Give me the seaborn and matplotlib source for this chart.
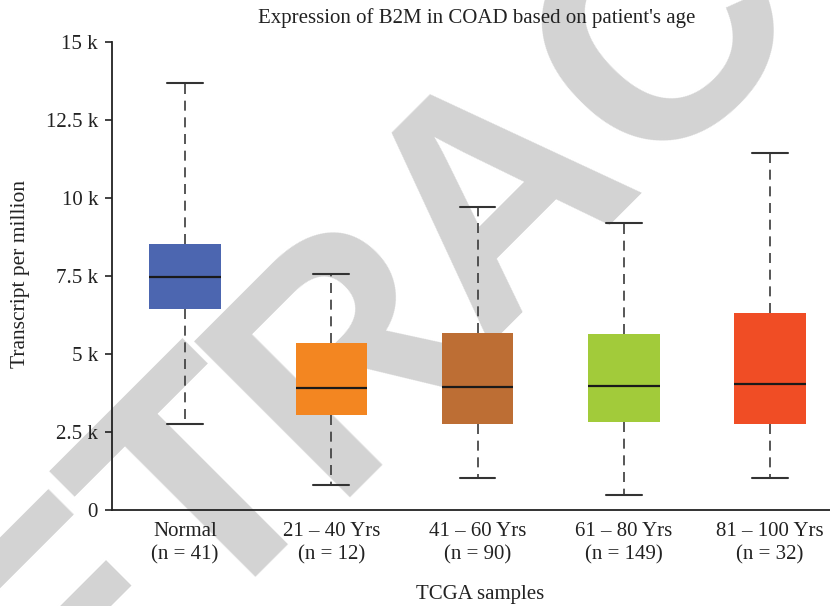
import matplotlib
matplotlib.use("Agg")
import matplotlib.pyplot as plt
import numpy as np
import pandas as pd
import seaborn as sns

# Five-number summaries of B2M expression (transcripts per million)
groups = ["Normal\n(n = 41)", "21 – 40 Yrs\n(n = 12)", "41 – 60 Yrs\n(n = 90)",
          "61 – 80 Yrs\n(n = 149)", "81 – 100 Yrs\n(n = 32)"]
whisker_low = [2760, 800, 1020, 490, 1010]
q1 = [6450, 3050, 2770, 2830, 2770]
median = [7480, 3900, 3930, 3990, 4030]
q3 = [8540, 5340, 5660, 5640, 6310]
whisker_high = [13690, 7570, 9700, 9210, 11440]
colors = ["#4C66B0", "#F38621", "#BD6E34", "#A2CB3A", "#F04D25"]

ytick_values = [0, 2500, 5000, 7500, 10000, 12500, 15000]
ytick_labels = ["0", "2.5 k", "5 k", "7.5 k", "10 k", "12.5 k", "15 k"]

# Long-form table: with five points per group, np.percentile returns
# exactly min, Q1, median, Q3 and max, so whis=(0, 100) reproduces the boxes.
rows = []
for g, lo, a, m, b, hi in zip(groups, whisker_low, q1, median, q3, whisker_high):
    for v in (lo, a, m, b, hi):
        rows.append({"group": g, "tpm": v})
df = pd.DataFrame(rows)

sns.set_theme(style="white")
plt.rcParams["font.family"] = ["Liberation Serif", "DejaVu Serif"]

W, H = 830, 606
fig = plt.figure(figsize=(W / 100, H / 100), dpi=100)
ax = fig.add_axes([112 / W, (H - 510) / H, (W - 112) / W, (510 - 42) / H])
ax.patch.set_alpha(0)

# Large grey diagonal stamp behind the plot, set letter by letter
# (advance widths in em units).
stamp = "RETRACTED"
advance = {"R": 0.722, "E": 0.667, "T": 0.611, "A": 0.785, "C": 0.722, "D": 0.722}
glyph_px, track_px = 320, 298
ang = np.deg2rad(45)
ox, oy = -92, -313
pen = 0.0
for ch in stamp:
    px = ox + pen * np.cos(ang)
    py = oy + pen * np.sin(ang)
    fig.text(px / W, py / H, ch, fontsize=glyph_px * 0.72, rotation=45,
             rotation_mode="anchor", ha="left", va="baseline", color="#D3D3D3",
             family="Liberation Sans", fontweight="bold", zorder=-1)
    pen += advance[ch] * track_px

sns.boxplot(data=df, x="group", y="tpm", hue="group", palette=colors,
            order=groups, hue_order=groups, whis=(0, 100), width=0.49,
            saturation=1, showfliers=False, legend=False, ax=ax,
            boxprops=dict(linewidth=0),
            medianprops=dict(color="#1a1a1a", linewidth=1.6),
            whiskerprops=dict(color="#3a3a3a", linewidth=1.2, linestyle=(0, (6, 4))),
            capprops=dict(color="#333333", linewidth=1.5))

ax.set_xlim(-0.5, 4.41)
ax.set_ylim(0, 15000)
ax.set_yticks(ytick_values)
ax.set_yticklabels(ytick_labels)

for s in ("top", "right"):
    ax.spines[s].set_visible(False)
for s in ("left", "bottom"):
    ax.spines[s].set_color("#222222")
    ax.spines[s].set_linewidth(1.3)

ax.tick_params(axis="y", which="both", left=True, length=5, width=1.2,
               color="#222222", pad=5, labelsize=15, labelcolor="#222222")
ax.tick_params(axis="x", length=0, pad=9, labelsize=15, labelcolor="#222222")
for lbl in ax.get_xticklabels():
    lbl.set_linespacing(1.25)

ax.set_xlabel("")
ax.set_ylabel("")
fig.text(477 / W, 1 - 18 / H, "Expression of B2M in COAD based on patient's age",
         ha="center", va="center", fontsize=15, color="#222222")
fig.text(20 / W, 1 - 274 / H, "Transcript per million", rotation=90,
         ha="center", va="center", fontsize=15.5, color="#222222")
fig.text(480 / W, 1 - 594 / H, "TCGA samples", ha="center", va="center",
         fontsize=15, color="#222222")

fig.savefig("out.png", dpi=100)
